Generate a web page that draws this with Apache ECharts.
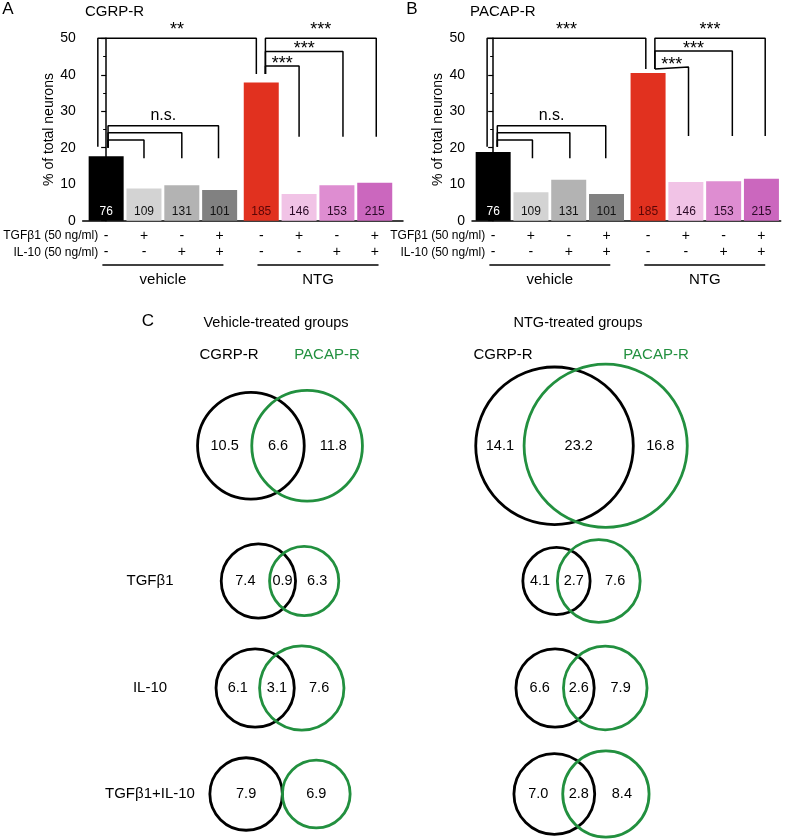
<!DOCTYPE html>
<html>
<head>
<meta charset="utf-8">
<script src="https://cdn.jsdelivr.net/npm/echarts@6/dist/echarts.min.js"></script>
<style>
  html, body { margin: 0; padding: 0; background: #fff; }
  #main { width: 788px; height: 839px; }
</style>
</head>
<body>
<div id="main"></div>
<script>
// ---- data ----
const barPos = [0, 1, 2, 3, 4.1, 5.1, 6.1, 7.1];
const nNeurons = [76, 109, 131, 101, 185, 146, 153, 215];
const cgrpValues = [17.7, 8.8, 9.7, 8.4, 37.9, 7.3, 9.7, 10.4];
const pacapValues = [18.8, 7.8, 11.2, 7.3, 40.5, 10.6, 10.8, 11.5];
const tgfRow = ['-', '+', '-', '+', '-', '+', '-', '+'];
const il10Row = ['-', '-', '+', '+', '-', '-', '+', '+'];
const groupNames = ['vehicle', 'NTG'];
const groupSpan = [[-0.1, 3.1], [4.0, 7.2]];

// venn: % of total neurons, rows = control, TGFβ1, IL-10, TGFβ1+IL-10
const vennRows = ['', 'TGFβ1', 'IL-10', 'TGFβ1+IL-10'];
const vehCgrpOnly = [10.5, 7.4, 6.1, 7.9];
const vehOverlap = [6.6, 0.9, 3.1, 0];
const vehPacapOnly = [11.8, 6.3, 7.6, 6.9];
const ntgCgrpOnly = [14.1, 4.1, 6.6, 7.0];
const ntgOverlap = [23.2, 2.7, 2.6, 2.8];
const ntgPacapOnly = [16.8, 7.6, 7.9, 8.4];

// significance brackets (data coords): left x, left foot, right x, right foot, top, text
const sigA = [
  [-0.22, 20.3, 3.97, 40.2, 50, '**'],
  [4.21, 40.2, 7.14, 23.0, 50, '***'],
  [4.21, 40.2, 6.26, 23.0, 46.4, '***'],
  [4.21, 40.2, 5.10, 23.0, 42.4, '***'],
  [0.05, 20.0, 2.97, 17.1, 26.0, 'n.s.'],
  [0.05, 20.0, 2.00, 17.1, 24.1, ''],
  [0.05, 20.0, 1.00, 17.1, 22.1, '']
];
const sigB = [
  [-0.16, 20.3, 4.04, 41.6, 50, '***'],
  [4.28, 41.6, 7.20, 23.2, 50, '***'],
  [4.28, 41.6, 6.33, 23.2, 46.5, '***'],
  [4.28, 41.6, 5.17, 23.2, 42.1, '***'],
  [0.11, 20.3, 2.98, 17.1, 26.0, 'n.s.'],
  [0.11, 20.3, 2.03, 17.1, 24.1, ''],
  [0.11, 20.3, 1.04, 17.1, 22.1, '']
];

// ---- styles ----
const FONT = '"Liberation Sans", Arial, sans-serif';
const GREEN = '#22903f';
const barColors = ['#000000', '#d3d3d3', '#b3b3b3', '#818181', '#e1311f', '#f1c3e6', '#de8dd1', '#cb67be'];
const labelColors = ['#ffffff', '#111111', '#111111', '#111111', '#5a0606', '#2b0a27', '#2b0a27', '#2b0a27'];

const chart = echarts.init(document.getElementById('main'));

function xAxisOpt(gi, min, max) {
  return {
    type: 'value', gridIndex: gi, min: min, max: max,
    axisLine: { lineStyle: { color: '#000', width: 1.5 } },
    axisTick: { show: false }, axisLabel: { show: false }, splitLine: { show: false }
  };
}
function yAxisOpt(gi) {
  return {
    type: 'value', gridIndex: gi, min: 0, max: 50, interval: 10,
    name: '% of total neurons', nameLocation: 'middle', nameGap: 21,
    nameTextStyle: { fontSize: 14, fontFamily: FONT, color: '#000' },
    axisLine: { show: true, lineStyle: { color: '#000', width: 1.5 } },
    axisTick: { show: true, length: 5, lineStyle: { width: 1.2 } },
    minorTick: { show: true, splitNumber: 2, length: 3, lineStyle: { color: '#000' } },
    axisLabel: { fontSize: 14, fontFamily: FONT, color: '#000', margin: 7 },
    splitLine: { show: false }
  };
}
function barSeries(gi, values) {
  return {
    type: 'bar', xAxisIndex: gi, yAxisIndex: gi, barWidth: 35,
    data: values.map((v, i) => ({
      value: [barPos[i], v],
      itemStyle: { color: barColors[i] },
      label: { color: labelColors[i] }
    })),
    label: {
      show: true, position: 'insideBottom', distance: 3,
      fontSize: 12, fontFamily: FONT,
      formatter: p => String(nNeurons[p.dataIndex])
    },
    silent: true
  };
}
function bracketSeries(gi, list) {
  return list.map(b => ({
    type: 'line', xAxisIndex: gi, yAxisIndex: gi, symbol: 'none', clip: false, silent: true,
    lineStyle: { color: '#000', width: 1.5 },
    data: [[b[0], b[1]], [b[0], b[4]], [b[2], b[4]], [b[2], b[3]]]
  }));
}

// ---- venn geometry ----
const colX = [280, 581.5];
const rowY = [445.8, 581, 688, 794];
const rScale = 12.9;
const minLens = 26;
function lensArea(r1, r2, d) {
  if (d >= r1 + r2) return 0;
  if (d <= Math.abs(r1 - r2)) return Math.PI * Math.min(r1, r2) ** 2;
  const a = r1 * r1 * Math.acos((d * d + r1 * r1 - r2 * r2) / (2 * d * r1));
  const b = r2 * r2 * Math.acos((d * d + r2 * r2 - r1 * r1) / (2 * d * r2));
  const c = 0.5 * Math.sqrt((-d + r1 + r2) * (d + r1 - r2) * (d - r1 + r2) * (d + r1 + r2));
  return a + b - c;
}
function solveDist(r1, r2, area) {
  if (area <= 0) return r1 + r2;
  let lo = Math.abs(r1 - r2), hi = r1 + r2;
  for (let k = 0; k < 60; k++) {
    const mid = (lo + hi) / 2;
    if (lensArea(r1, r2, mid) > area) lo = mid; else hi = mid;
  }
  return Math.min((lo + hi) / 2, r1 + r2 - minLens);
}
function vennRender(col, cOnly, both, pOnly) {
  return function (params, api) {
    const i = api.value(0);
    const a = cOnly[i], ab = both[i], b = pOnly[i];
    const r1 = rScale * Math.sqrt(a + ab), r2 = rScale * Math.sqrt(b + ab);
    const d = solveDist(r1, r2, Math.PI * rScale * rScale * ab);
    const c1 = colX[col] - (d + r2 - r1) / 2, c2 = c1 + d, cy = rowY[i];
    const t = (x, s) => ({
      type: 'text', x: x, y: cy,
      style: { text: s, fontSize: 14.5, fontFamily: FONT, fill: '#000', align: 'center', verticalAlign: 'middle' }
    });
    const kids = [
      { type: 'circle', shape: { cx: c1, cy: cy, r: r1 }, style: { fill: 'none', stroke: '#000', lineWidth: 2.8 } },
      { type: 'circle', shape: { cx: c2, cy: cy, r: r2 }, style: { fill: 'none', stroke: GREEN, lineWidth: 2.8 } }
    ];
    if (ab > 0) {
      kids.push(t((c1 - r1 + c2 - r2) / 2, a.toFixed(1)));
      kids.push(t((c2 - r2 + c1 + r1) / 2, ab.toFixed(1)));
      kids.push(t((c1 + r1 + c2 + r2) / 2, b.toFixed(1)));
    } else {
      kids.push(t(c1, a.toFixed(1)));
      kids.push(t(c2, b.toFixed(1)));
    }
    return { type: 'group', children: kids };
  };
}

chart.setOption({
  animation: false,
  textStyle: { fontFamily: FONT },
  grid: [
    { left: 82.7, top: 38.3, width: 320.3, height: 182.4 },
    { left: 472, top: 38.3, width: 308.7, height: 182.4 }
  ],
  xAxis: [xAxisOpt(0, -0.62, 7.847), xAxisOpt(1, -0.56, 7.61)],
  yAxis: [yAxisOpt(0), yAxisOpt(1)],
  series: [
    barSeries(0, cgrpValues),
    barSeries(1, pacapValues),
    ...bracketSeries(0, sigA),
    ...bracketSeries(1, sigB),
    { type: 'custom', coordinateSystem: 'none', silent: true,
      data: vennRows.map((r, i) => [i]), renderItem: vennRender(0, vehCgrpOnly, vehOverlap, vehPacapOnly) },
    { type: 'custom', coordinateSystem: 'none', silent: true,
      data: vennRows.map((r, i) => [i]), renderItem: vennRender(1, ntgCgrpOnly, ntgOverlap, ntgPacapOnly) }
  ]
});

// ---- annotations placed through the axes ----
const g = [];
function text(x, y, s, size, extra) {
  g.push({
    type: 'text', x: x, y: y, silent: true,
    style: Object.assign({ text: s, fontSize: size, fontFamily: FONT, fill: '#000', align: 'center', verticalAlign: 'middle' }, extra || {})
  });
}
function hline(x1, x2, y) {
  g.push({ type: 'line', silent: true, shape: { x1: x1, y1: y, x2: x2, y2: y }, style: { stroke: '#000', lineWidth: 1.5 } });
}

[[0, sigA], [1, sigB]].forEach(([gi, sig]) => {
  const px = (x, y) => chart.convertToPixel({ gridIndex: gi }, [x, y]);
  // significance labels
  sig.forEach(b => {
    if (!b[5]) return;
    const p = px((b[0] + b[2]) / 2, b[4]);
    if (b[5] === 'n.s.') text(p[0], p[1] - 10, b[5], 16);
    else text(p[0], p[1] - (b[4] === 50 ? 8 : 2), b[5], 18);
  });
  // treatment table
  const x0 = px(barPos[0], 0)[0];
  text(x0 - 8, 235.7, 'TGFβ1 (50 ng/ml)', 12, { align: 'right' });
  text(x0 - 8, 252.3, 'IL-10 (50 ng/ml)', 12, { align: 'right' });
  barPos.forEach((x, i) => {
    const cx = px(x, 0)[0];
    text(cx, 235.7, tgfRow[i], 14);
    text(cx, 252.3, il10Row[i], 14);
  });
  groupSpan.forEach((s, k) => {
    const a = px(s[0], 0)[0], b = px(s[1], 0)[0];
    hline(a, b, 265);
    text((px(k ? 5.6 : 1.5, 0)[0]), 280, groupNames[k], 15);
  });
});

// panel titles
text(8, 9, 'A', 17);
text(85, 12, 'CGRP-R', 15, { align: 'left' });
text(412, 9, 'B', 17);
text(470, 12, 'PACAP-R', 15, { align: 'left' });
text(148, 321, 'C', 17);
text(276, 323, 'Vehicle-treated groups', 14.5);
text(578, 323, 'NTG-treated groups', 14.5);
text(229, 354.5, 'CGRP-R', 15);
text(327, 354.5, 'PACAP-R', 15, { fill: GREEN });
text(503, 354.5, 'CGRP-R', 15);
text(656, 354.5, 'PACAP-R', 15, { fill: GREEN });
vennRows.forEach((r, i) => { if (r) text(150, rowY[i], r, 15); });

chart.setOption({ graphic: g });
</script>
</body>
</html>
